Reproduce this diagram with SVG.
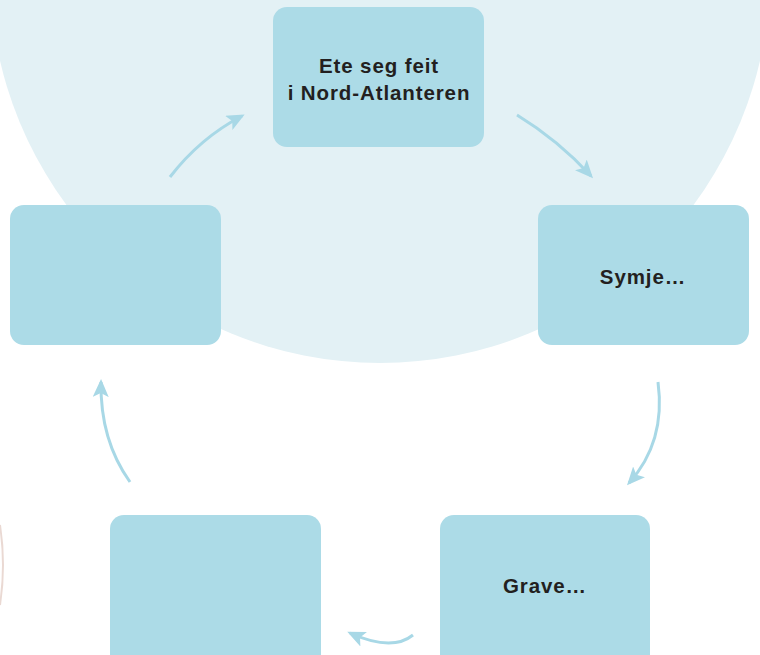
<svg xmlns="http://www.w3.org/2000/svg" width="760" height="655" viewBox="0 0 760 655">
<style>
.box{fill:#acdbe7}
.lbl{font-family:"Liberation Sans",Arial,sans-serif;font-weight:bold;font-size:20.5px;letter-spacing:0.9px;fill:#231f20;text-anchor:middle}
.con{fill:none;stroke:#a8d8e6;stroke-width:3;stroke-linecap:butt;marker-end:url(#ah)}
</style>
<defs>
<marker id="ah" markerUnits="userSpaceOnUse" viewBox="0 0 18 16" refX="15" refY="8" markerWidth="18" markerHeight="16" orient="auto">
<path d="M0,0 L18,8 L0,16 L4,8 Z" fill="#a8d8e6"/>
</marker>
</defs>
<rect width="760" height="655" fill="#ffffff"/>
<circle cx="380" cy="-27" r="390" fill="#e3f1f5"/>
<path d="M0,525 Q6,565 0,605" fill="none" stroke="#ead9d3" stroke-width="2"/>
<g id="connectors">
<path class="con" d="M170,177 Q200,138 242,116"/>
<path class="con" d="M517,115 Q558,140 591,176"/>
<path class="con" d="M658,382 Q666,442 629,483"/>
<path class="con" d="M413,635 Q392,652 350,633"/>
<path class="con" d="M130,482 Q100,440 101,382"/>
</g>
<g id="node-top">
<rect class="box" x="273" y="7" width="211" height="140" rx="14"/>
<text class="lbl" x="379" y="73">Ete seg feit</text>
<text class="lbl" x="379" y="100">i Nord-Atlanteren</text>
</g>
<g id="node-right">
<rect class="box" x="538" y="205" width="211" height="140" rx="14"/>
<text class="lbl" x="643" y="284">Symje…</text>
</g>
<g id="node-bottom-right">
<rect class="box" x="440" y="515" width="210" height="155" rx="14"/>
<text class="lbl" x="545" y="593">Grave…</text>
</g>
<g id="node-bottom-left">
<rect class="box" x="110" y="515" width="211" height="155" rx="14"/>
</g>
<g id="node-left">
<rect class="box" x="10" y="205" width="211" height="140" rx="14"/>
</g>
</svg>
